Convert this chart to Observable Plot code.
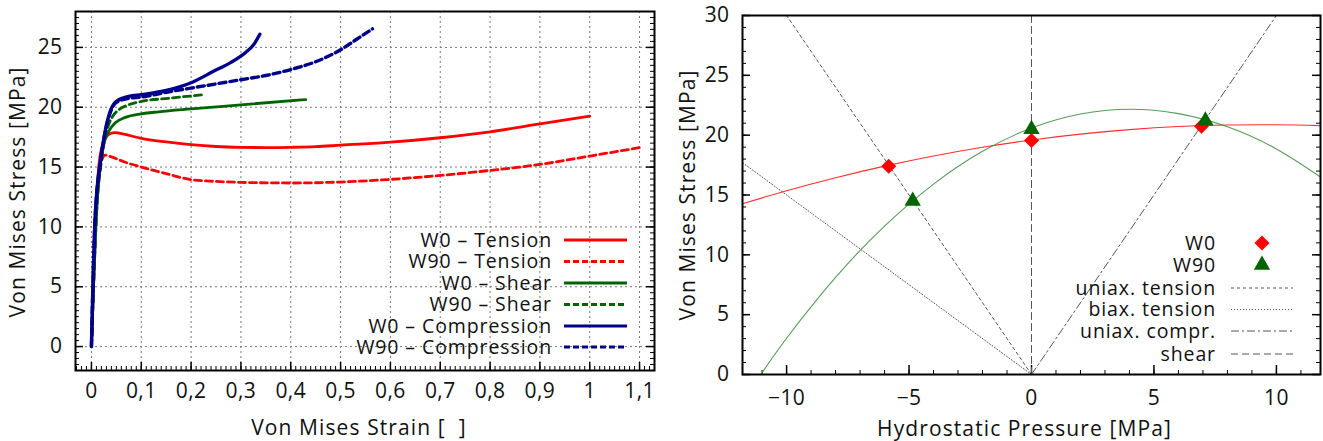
<!DOCTYPE html>
<html>
<head>
<meta charset="utf-8">
<script src="https://cdn.jsdelivr.net/npm/d3@7"></script>
<script src="https://cdn.jsdelivr.net/npm/@observablehq/plot@0.6"></script>
<style>
  html, body { margin: 0; padding: 0; background: #fff; }
  #wrap { position: relative; width: 1323px; height: 441px; overflow: hidden; font-family: "Open Sans", sans-serif; }
  #left, #right { position: absolute; top: 0; }
  #left { left: 0; }
  #right { left: 660px; }
  #legend { position: absolute; left: 0; top: 0; pointer-events: none; }
</style>
</head>
<body>
<div id="wrap">
  <div id="left"></div>
  <div id="right"></div>
  <svg id="legend" width="1323" height="441"></svg>
</div>
<script>
// ---------------- LEFT CHART DATA ----------------
const seriesNames = ["W0 – Tension", "W90 – Tension", "W0 – Shear", "W90 – Shear", "W0 – Compression", "W90 – Compression"];
const seriesColors = ["#ff0000", "#ff0000", "#006400", "#006400", "#00008b", "#00008b"];
const seriesDashed = [false, true, false, true, false, true];

const w0TensionStrain = [0, 0.005, 0.01, 0.015, 0.02, 0.028, 0.038, 0.048, 0.065, 0.1, 0.15, 0.2, 0.25, 0.3, 0.35, 0.4, 0.45, 0.5, 0.6, 0.7, 0.8, 0.9, 1.0];
const w0TensionStress = [0, 6, 12, 15.2, 16.5, 17.4, 17.8, 17.88, 17.75, 17.4, 17.1, 16.87, 16.72, 16.65, 16.63, 16.65, 16.7, 16.83, 17.08, 17.45, 17.95, 18.6, 19.25];

const w90TensionStrain = [0, 0.005, 0.01, 0.015, 0.02, 0.028, 0.04, 0.068, 0.1, 0.15, 0.2, 0.25, 0.3, 0.4, 0.5, 0.6, 0.7, 0.8, 0.9, 1.0, 1.1];
const w90TensionStress = [0, 6, 11.5, 14.3, 15.5, 16.0, 15.85, 15.4, 15.0, 14.45, 13.95, 13.8, 13.72, 13.67, 13.75, 13.97, 14.3, 14.72, 15.22, 15.92, 16.62];

const w0ShearStrain = [0, 0.005, 0.01, 0.015, 0.02, 0.025, 0.035, 0.048, 0.068, 0.1, 0.135, 0.2, 0.3, 0.43];
const w0ShearStress = [0, 6, 11, 14, 15.8, 16.95, 18.0, 18.7, 19.15, 19.45, 19.62, 19.86, 20.2, 20.64];

const w90ShearStrain = [0, 0.005, 0.01, 0.02, 0.028, 0.035, 0.042, 0.055, 0.068, 0.1, 0.155, 0.222];
const w90ShearStress = [0, 6, 11, 15.5, 17.6, 18.6, 19.2, 19.8, 20.1, 20.48, 20.75, 21.03];

const w0ComprStrain = [0, 0.007, 0.012, 0.018, 0.028, 0.038, 0.05, 0.075, 0.1, 0.15, 0.18, 0.2, 0.245, 0.28, 0.31, 0.325, 0.338];
const w0ComprStress = [0, 10.5, 13.5, 15.5, 18.1, 19.7, 20.5, 20.9, 21.05, 21.4, 21.75, 22.05, 23.0, 23.75, 24.6, 25.2, 26.1];

const w90ComprStrain = [0, 0.007, 0.018, 0.028, 0.04, 0.05, 0.075, 0.1, 0.15, 0.2, 0.25, 0.3, 0.35, 0.4, 0.45, 0.5, 0.533, 0.564];
const w90ComprStress = [0, 10.3, 15.3, 18.0, 19.8, 20.4, 20.75, 20.85, 21.25, 21.6, 21.95, 22.3, 22.65, 23.15, 23.8, 24.8, 25.7, 26.55];

const leftXTicks = [0, 0.1, 0.2, 0.3, 0.4, 0.5, 0.6, 0.7, 0.8, 0.9, 1, 1.1];
const leftXTickLabels = ["0", "0,1", "0,2", "0,3", "0,4", "0,5", "0,6", "0,7", "0,8", "0,9", "1", "1,1"];
const leftYTicks = [0, 5, 10, 15, 20, 25];

// ---------------- RIGHT CHART DATA ----------------
const w0PressX = [-5.83, 0, 6.94];
const w0PressY = [17.4, 19.55, 20.75];
const w90PressX = [-4.85, 0, 7.1];
const w90PressY = [14.5, 20.5, 21.2];

const w0FitX = [-11.8, -10, -8, -6, -4, -2, 0, 2, 4, 6, 8, 10, 11.8];
const w0FitY = [14.27, 15.35, 16.44, 17.41, 18.26, 18.99, 19.6, 20.09, 20.46, 20.72, 20.85, 20.87, 20.8];
const w90FitX = [-11.05, -10, -8, -6, -4, -2, 0, 2, 4, 6, 8, 10, 11.8];
const w90FitY = [0, 3.03, 8.11, 12.4, 15.91, 18.65, 20.6, 21.77, 22.17, 21.8, 20.7, 18.85, 16.5];

const uniaxTensionX = [0, -10];
const uniaxTensionY = [0, 30];
const biaxTensionX = [0, -11.8];
const biaxTensionY = [0, 17.7];
const uniaxComprX = [0, 10];
const uniaxComprY = [0, 30];
const shearX = [0, 0];
const shearY = [0, 30];

const rightXTicks = [-10, -5, 0, 5, 10];
const rightYTicks = [0, 5, 10, 15, 20, 25, 30];
const rightLegendNames = ["W0", "W90", "uniax. tension", "biax. tension", "uniax. compr.", "shear"];
const refDash = ["3,3", "1,2", "8,3,2,3", "7,4"];

const FONT = "Open Sans, sans-serif";
const TITLE_SPACING = "1.1px";
const TICK_SPACING = "0.4px";
const zip = (xs, ys) => xs.map((x, i) => ({x, y: ys[i]}));

function styleTexts(svg, titles) {
  d3.select(svg).selectAll("text").each(function () {
    const t = this.textContent;
    d3.select(this).style("letter-spacing", titles.includes(t) ? TITLE_SPACING : TICK_SPACING);
  });
}

// ---------------- LEFT CHART ----------------
{
  const width = 660, height = 441, mL = 75, mR = 6, mT = 11, mB = 71;
  const pw = width - mL - mR, ph = height - mT - mB;
  const xs = [w0TensionStrain, w90TensionStrain, w0ShearStrain, w90ShearStrain, w0ComprStrain, w90ComprStrain];
  const ys = [w0TensionStress, w90TensionStress, w0ShearStress, w90ShearStress, w0ComprStress, w90ComprStress];
  const xMinor = d3.range(-3, 114).map(i => i / 100);
  const yMinor = d3.range(-4, 57).map(i => i / 2);
  const order = [0, 1, 2, 3, 5, 4];
  const lineMarks = order.map(i => Plot.line(zip(xs[i], ys[i]), {
    x: "x", y: "y", stroke: seriesColors[i], strokeWidth: i >= 4 ? 3.4 : 2.8,
    strokeDasharray: seriesDashed[i] ? "7,4" : null, curve: "monotone-x"
  }));
  const titles = ["Von Mises Strain [  ]", "Von Mises Stress [MPa]"];
  const p = Plot.plot({
    width, height, marginLeft: mL, marginRight: mR, marginTop: mT, marginBottom: mB,
    style: {fontFamily: FONT, fontSize: "21px", color: "#111", background: "white"},
    x: {domain: [-0.032, 1.13]},
    y: {domain: [-2, 28]},
    marks: [
      Plot.ruleX(leftXTicks, {stroke: "#777", strokeDasharray: "2,3", strokeWidth: 1}),
      Plot.ruleY(leftYTicks, {stroke: "#777", strokeDasharray: "2,3", strokeWidth: 1}),
      Plot.ruleX(xMinor, {stroke: "black", strokeWidth: 1, insetTop: ph - 4}),
      Plot.ruleX(leftXTicks, {stroke: "black", strokeWidth: 1.5, insetTop: ph - 8}),
      Plot.ruleY(yMinor, {stroke: "black", strokeWidth: 1, insetRight: pw - 4}),
      Plot.ruleY(leftYTicks, {stroke: "black", strokeWidth: 1.5, insetRight: pw - 8}),
      Plot.ruleY(yMinor, {stroke: "black", strokeWidth: 1, insetLeft: pw - 4}),
      Plot.ruleY(leftYTicks, {stroke: "black", strokeWidth: 1.5, insetLeft: pw - 8}),
      ...lineMarks,
      Plot.axisX(leftXTicks, {tickSize: 0, tickPadding: 13, fontSize: 21, label: null,
        tickFormat: d => leftXTickLabels[leftXTicks.indexOf(d)]}),
      Plot.axisY(leftYTicks, {tickSize: 0, tickPadding: 13, fontSize: 21, label: null}),
      Plot.text([titles[0]], {frameAnchor: "bottom", lineAnchor: "middle", dx: -6, dy: 58, fontSize: 21, fill: "#111"}),
      Plot.text([titles[1]], {frameAnchor: "left", textAnchor: "middle", lineAnchor: "middle", dx: -57, dy: 1, rotate: -90, fontSize: 21, fill: "#111"}),
      Plot.frame({stroke: "black", strokeWidth: 2})
    ]
  });
  styleTexts(p, titles);
  document.getElementById("left").appendChild(p);
}

// ---------------- RIGHT CHART ----------------
{
  const width = 663, height = 441, mL = 82, mR = 3, mT = 15, mB = 67;
  const pw = width - mL - mR, ph = height - mT - mB;
  const xMinor = d3.range(-11, 12);
  const yMinor = d3.range(0, 31);
  const titles = ["Hydrostatic Pressure [MPa]", "Von Mises Stress [MPa]"];
  const p = Plot.plot({
    width, height, marginLeft: mL, marginRight: mR, marginTop: mT, marginBottom: mB,
    style: {fontFamily: FONT, fontSize: "21px", color: "#111", background: "white"},
    x: {domain: [-11.8, 11.8]},
    y: {domain: [0, 30]},
    marks: [
      Plot.ruleX(xMinor, {stroke: "black", strokeWidth: 1, insetTop: ph - 4}),
      Plot.ruleX(rightXTicks, {stroke: "black", strokeWidth: 1.5, insetTop: ph - 9}),
      Plot.ruleY(yMinor, {stroke: "black", strokeWidth: 1, insetRight: pw - 4}),
      Plot.ruleY(rightYTicks, {stroke: "black", strokeWidth: 1.5, insetRight: pw - 8}),
      Plot.ruleY(yMinor, {stroke: "black", strokeWidth: 1, insetLeft: pw - 4}),
      Plot.ruleY(rightYTicks, {stroke: "black", strokeWidth: 1.5, insetLeft: pw - 8}),
      Plot.line(zip(uniaxTensionX, uniaxTensionY), {x: "x", y: "y", stroke: "#555", strokeWidth: 1, strokeDasharray: refDash[0]}),
      Plot.line(zip(biaxTensionX, biaxTensionY), {x: "x", y: "y", stroke: "#555", strokeWidth: 1, strokeDasharray: refDash[1]}),
      Plot.line(zip(uniaxComprX, uniaxComprY), {x: "x", y: "y", stroke: "#555", strokeWidth: 1, strokeDasharray: refDash[2]}),
      Plot.line(zip(shearX, shearY), {x: "x", y: "y", stroke: "#555", strokeWidth: 1, strokeDasharray: refDash[3]}),
      Plot.line(zip(w0FitX, w0FitY), {x: "x", y: "y", stroke: "#ff3030", strokeWidth: 1.1, curve: "natural"}),
      Plot.line(zip(w90FitX, w90FitY), {x: "x", y: "y", stroke: "#3d8a3d", strokeWidth: 1.1, strokeOpacity: 0.85, curve: "natural"}),
      Plot.dot(zip(w0PressX, w0PressY), {x: "x", y: "y", symbol: "diamond2", r: 6.8, fill: "#ff0000", stroke: "none"}),
      Plot.dot(zip(w90PressX, w90PressY), {x: "x", y: "y", symbol: "triangle2", r: 7.8, fill: "#006400", stroke: "none"}),
      Plot.axisX(rightXTicks, {tickSize: 0, tickPadding: 16, fontSize: 21, label: null}),
      Plot.axisY(rightYTicks, {tickSize: 0, tickPadding: 13, fontSize: 21, label: null}),
      Plot.text([titles[0]], {frameAnchor: "bottom", lineAnchor: "middle", dx: -7, dy: 55, fontSize: 21, fill: "#111"}),
      Plot.text([titles[1]], {frameAnchor: "left", textAnchor: "middle", lineAnchor: "middle", dx: -54, dy: 0, rotate: -90, fontSize: 21, fill: "#111"}),
      Plot.frame({stroke: "black", strokeWidth: 2})
    ]
  });
  styleTexts(p, titles);
  document.getElementById("right").appendChild(p);
}

// ---------------- LEGENDS ----------------
{
  const svg = d3.select("#legend");
  const lRows = [240, 261.5, 283, 304.5, 326, 347];
  seriesNames.forEach((name, i) => {
    svg.append("text").attr("x", 552).attr("y", lRows[i]).attr("dy", "0.35em")
      .attr("text-anchor", "end").attr("font-family", FONT).attr("font-size", 19.5)
      .style("letter-spacing", "0.9px").attr("fill", "#111").text(name);
    svg.append("line").attr("x1", 564).attr("x2", 627).attr("y1", lRows[i]).attr("y2", lRows[i])
      .attr("stroke", seriesColors[i]).attr("stroke-width", 2.8)
      .attr("stroke-dasharray", seriesDashed[i] ? "6,3" : null);
  });
  const rRows = [243, 265, 288, 309.5, 331, 354];
  rightLegendNames.forEach((name, i) => {
    svg.append("text").attr("x", 1216).attr("y", rRows[i]).attr("dy", "0.35em")
      .attr("text-anchor", "end").attr("font-family", FONT).attr("font-size", 19.5)
      .style("letter-spacing", "0.9px").attr("fill", "#111").text(name);
  });
  svg.append("path").attr("transform", `translate(1262,${rRows[0]})`)
    .attr("d", d3.symbol(d3.symbolDiamond2, Math.PI * 6.8 * 6.8)()).attr("fill", "#ff0000");
  svg.append("path").attr("transform", `translate(1262,${rRows[1]})`)
    .attr("d", d3.symbol(d3.symbolTriangle2, Math.PI * 7.8 * 7.8)()).attr("fill", "#006400");
  refDash.forEach((dash, j) => {
    const y = rRows[j + 2];
    svg.append("line").attr("x1", 1231).attr("x2", 1293).attr("y1", y).attr("y2", y)
      .attr("stroke", "#555").attr("stroke-width", 1).attr("stroke-dasharray", dash);
  });
}
</script>
</body>
</html>
